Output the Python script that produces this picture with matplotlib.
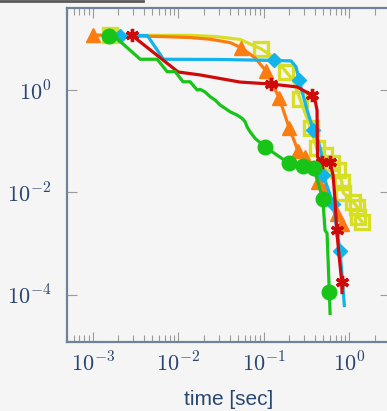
import math
import matplotlib
matplotlib.use("Agg")
import matplotlib.pyplot as plt
from matplotlib.ticker import FixedLocator, LogLocator, NullLocator, FuncFormatter, NullFormatter
from matplotlib.lines import Line2D

plt.rcParams['mathtext.fontset'] = 'cm'

# ---- data (time [sec], residual) ----
orange_t = [1.01e-3, 2.75e-3, 6.15e-3, 1.38e-2, 2.37e-2, 4.06e-2, 5.46e-2, 7.96e-2, 0.107, 0.129,
            0.152, 0.178, 0.199, 0.227, 0.253, 0.306, 0.369, 0.438, 0.510, 0.600, 0.730, 0.822, 0.851]
orange_y = [11.9, 11.4, 11.1, 10.6, 9.82, 8.43, 6.73, 4.23, 2.35, 1.25,
            0.697, 0.324, 0.180, 0.105, 0.064, 0.0489, 0.0326, 0.0160, 0.0110, 0.00703, 0.00386, 0.00246, 0.00191]
orange_mk = [0, 6, 8, 10, 12, 14, 15, 17, 18, 20, 21]

green_t = [1.56e-3, 1.83e-3, 3.60e-3, 5.68e-3, 7.43e-3, 9.23e-3, 1.14e-2, 1.38e-2, 1.67e-2, 1.81e-2,
           2.07e-2, 2.37e-2, 2.71e-2, 3.10e-2, 3.55e-2, 4.06e-2, 4.90e-2, 5.61e-2, 6.08e-2, 6.41e-2,
           6.95e-2, 7.96e-2, 0.104, 0.144, 0.199, 0.290, 0.390, 0.493, 0.524, 0.553, 0.588, 0.600]
green_y = [11.55, 10.9, 3.99, 3.99, 2.28, 2.28, 1.45, 1.45, 1.0, 1.03,
           0.914, 0.739, 0.637, 0.508, 0.438, 0.376, 0.324, 0.279, 0.240, 0.191,
           0.153, 0.1135, 0.0777, 0.0534, 0.0368, 0.0330, 0.0294, 0.00736, 0.00182, 0.00159, 1.13e-4, 4.33e-5]
green_mk = [0, 22, 24, 25, 26, 27, 30]

blue_t = [2.10e-3, 4.37e-3, 6.73e-3, 3.10e-2, 0.133, 0.210, 0.240, 0.260, 0.323, 0.382,
          0.434, 0.471, 0.490, 0.500, 0.650, 0.724, 0.785, 0.828, 0.881]
blue_y = [11.55, 11.55, 3.99, 3.95, 3.78, 3.70, 2.82, 1.57, 0.406, 0.165,
          0.105, 0.0612, 0.0272, 0.0217, 0.00606, 0.00182, 7.07e-4, 2.40e-4, 6.2e-5]
blue_mk = [0, 4, 7, 9, 13, 14, 16]

red_t = [2.87e-3, 3.14e-3, 1.0e-2, 1.81e-2, 5.31e-2, 0.122, 0.246, 0.366, 0.400, 0.422,
         0.428, 0.479, 0.600, 0.650, 0.686, 0.718, 0.764, 0.822, 0.828]
red_y = [11.9, 10.4, 2.25, 1.97, 1.43, 1.31, 1.15, 0.798, 0.637, 0.406,
         0.0489, 0.0395, 0.0395, 0.0217, 0.00703, 0.00182, 5.90e-4, 1.77e-4, 1.11e-4]
red_mk = [0, 5, 7, 11, 12, 15, 17]

yellow_t = [1.60e-3, 4.71e-3, 1.38e-2, 2.71e-2, 5.31e-2, 9.35e-2, 0.136, 0.183, 0.221, 0.267,
            0.356, 0.419, 0.524, 0.628, 0.750, 0.822, 0.858, 1.12, 1.25, 1.27, 1.41]
yellow_y = [11.7, 11.7, 11.7, 11.1, 9.73, 6.35, 4.23, 2.28, 1.57, 0.667,
            0.178, 0.0723, 0.0534, 0.0368, 0.0272, 0.0160, 0.00977, 0.00652, 0.00520, 0.00334, 0.00270]
yellow_mk = [0, 5, 7, 9, 10, 11, 12, 13, 14, 15, 16, 17, 18, 19, 20]

x_major = [1e-3, 1e-2, 1e-1, 1e0]
y_major = [1e0, 1e-2, 1e-4]
xlabel = "time [sec]"

# ---- style ----
BG = '#f5f5f5'
SPINE = '#6f8299'
TXT = '#2a4670'
TICK = '#9a9a9a'

fig = plt.figure(figsize=(3.87, 4.11), dpi=100, facecolor=BG)
ax = fig.add_axes([67/387, 1-342/411, (389.8-67)/387, (342-8)/411], facecolor=BG)
ax.set_xscale('log')
ax.set_yscale('log')
ax.set_xlim(5e-4, 3.0)
ax.set_ylim(1.2e-5, 40)

lw = 2.3
ax.plot(yellow_t, yellow_y, color='#d6de26', lw=lw, marker='s', ms=9.5, mfc='none',
        mec='#d6de26', mew=2.4, markevery=yellow_mk, zorder=2)
ax.plot(orange_t, orange_y, color='#fb7d12', lw=lw, marker='^', ms=10, mfc='#fb7d12',
        mec='#fb7d12', markevery=orange_mk, zorder=3)
ax.plot(blue_t, blue_y, color='#12b4ea', lw=lw, marker='D', ms=7.5, mfc='#12b4ea',
        mec='#12b4ea', markevery=blue_mk, zorder=4)
ax.plot(red_t, red_y, color='#cf0a0a', lw=lw, marker=(6, 2, 0), ms=9.5, mfc='#cf0a0a',
        mec='#cf0a0a', mew=2.4, markevery=red_mk, zorder=5)
ax.plot(green_t, green_y, color='#18c418', lw=lw, marker='o', ms=10.5, mfc='#18c418',
        mec='#18c418', markevery=green_mk, zorder=6)

for s in ax.spines.values():
    s.set_color(SPINE)
    s.set_linewidth(1.6)

ax.xaxis.set_major_locator(FixedLocator(x_major))
ax.xaxis.set_minor_locator(LogLocator(base=10, subs=[2, 3, 4, 5, 6, 7, 8, 9], numticks=20))
ax.xaxis.set_minor_formatter(NullFormatter())
ax.yaxis.set_major_locator(FixedLocator(y_major))
ax.yaxis.set_minor_locator(NullLocator())
fmt = FuncFormatter(lambda v, p: r'$10^{%d}$' % round(math.log10(v)))
ax.xaxis.set_major_formatter(fmt)
ax.yaxis.set_major_formatter(fmt)

ax.tick_params(axis='both', which='both', direction='in', color=TICK, width=0.8,
               top=True, right=True, labelcolor=TXT, labelsize=16)
ax.tick_params(axis='both', which='major', length=7.5)
ax.tick_params(axis='x', which='minor', length=5)
ax.tick_params(axis='x', which='major', pad=7)
ax.tick_params(axis='y', which='major', pad=11)

ax.set_xlabel(xlabel, fontsize=15, color=TXT, family='Liberation Sans', labelpad=10)

fig.add_artist(Line2D([0, 143/387], [1-1/411, 1-1/411], transform=fig.transFigure,
                      color='#5a5a5a', lw=2))

fig.savefig('out.png', dpi=100, facecolor=BG)
